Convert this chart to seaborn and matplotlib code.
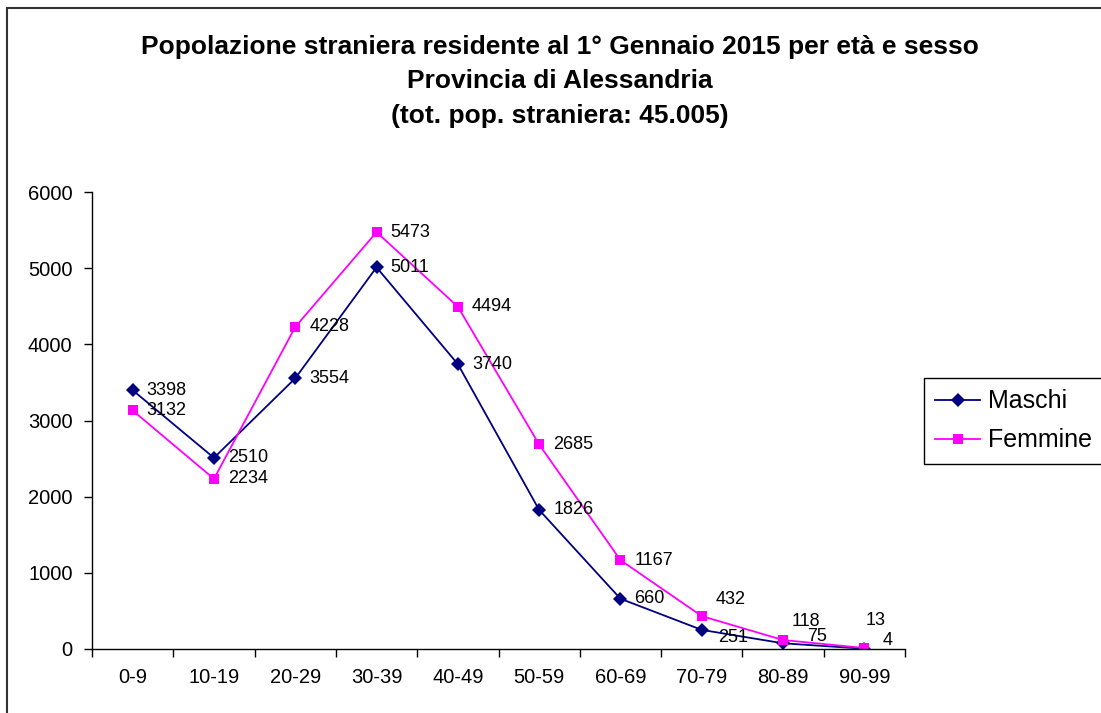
import matplotlib
matplotlib.use("Agg")
import matplotlib.pyplot as plt
from matplotlib.patches import Rectangle
import seaborn as sns
import pandas as pd

# age classes and counts
eta = ["0-9", "10-19", "20-29", "30-39", "40-49", "50-59", "60-69", "70-79", "80-89", "90-99"]
maschi = [3398, 2510, 3554, 5011, 3740, 1826, 660, 251, 75, 4]
femmine = [3132, 2234, 4228, 5473, 4494, 2685, 1167, 432, 118, 13]

df = pd.DataFrame({
    "eta": eta * 2,
    "valore": maschi + femmine,
    "sesso": ["Maschi"] * len(eta) + ["Femmine"] * len(eta),
})

plt.rcParams['font.family'] = ['Liberation Sans', 'DejaVu Sans']

fig = plt.figure(figsize=(11.01, 7.13), dpi=100)
ax = fig.add_axes([92 / 1101, 1 - 649 / 713, (905 - 92) / 1101, (649 - 192) / 713])

colori = {"Maschi": "#000080", "Femmine": "#FF00FF"}
sns.lineplot(data=df, x="eta", y="valore", hue="sesso", style="sesso",
             palette=colori, markers={"Maschi": "D", "Femmine": "s"},
             dashes=False, markersize=7, markeredgewidth=0, linewidth=1.3,
             sort=False, ax=ax, legend=True)

# data labels: right of each point, a few moved by hand like in the original
spost_m = {7: (16, -8), 8: (24, 7), 9: (18, 8)}
spost_f = {7: (14, 17), 8: (9, 19), 9: (1, 28)}
for valori, spost in [(maschi, spost_m), (femmine, spost_f)]:
    for i, v in enumerate(valori):
        dx, dy = spost.get(i, (14, 0))
        ax.annotate(str(v), (i, v), xytext=(dx, dy), textcoords="offset pixels",
                    ha="left", va="center", fontsize=13)

ax.set_xlim(-0.5, len(eta) - 0.5)
ax.set_ylim(0, 6000)
ax.set_yticks(range(0, 6001, 1000))
ax.set_xticks([i - 0.5 for i in range(len(eta) + 1)])
ax.set_xticklabels([])
ax.set_xticks(range(len(eta)), minor=True)
ax.set_xticklabels(eta, minor=True)
ax.tick_params(axis="x", which="minor", length=0, pad=14, labelsize=14.5)
ax.tick_params(axis="x", which="major", length=6, width=1, direction="out")
ax.tick_params(axis="y", length=6, width=1, direction="out", pad=8, labelsize=14.5)
ax.set_xlabel("")
ax.set_ylabel("")
for s in ["top", "right"]:
    ax.spines[s].set_visible(False)
for s in ["left", "bottom"]:
    ax.spines[s].set_linewidth(1)
    ax.spines[s].set_color("black")

h, l = ax.get_legend_handles_labels()
ax.get_legend().remove()
fig.legend(h, l, loc="upper left", bbox_to_anchor=(924 / 1101, 1 - 378 / 713),
           borderaxespad=0, fontsize=18, frameon=True, fancybox=False,
           edgecolor="black", framealpha=1, handlelength=1.8, handletextpad=0.3,
           borderpad=0.45, labelspacing=0.6)

titolo = ["Popolazione straniera residente al 1° Gennaio 2015 per età e sesso",
          "Provincia di Alessandria",
          "(tot. pop. straniera: 45.005)"]
for k, y in enumerate([47, 81, 116]):
    fig.text(560 / 1101, 1 - y / 713, titolo[k], ha="center", va="center",
             fontsize=19, fontweight="bold")

fig.patches.append(Rectangle((7 / 1101, -0.1), 1.2, 1 - 8 / 713 + 0.1,
                             transform=fig.transFigure, fill=False,
                             edgecolor="#333333", linewidth=1.5))

fig.savefig("out.png", dpi=100)
